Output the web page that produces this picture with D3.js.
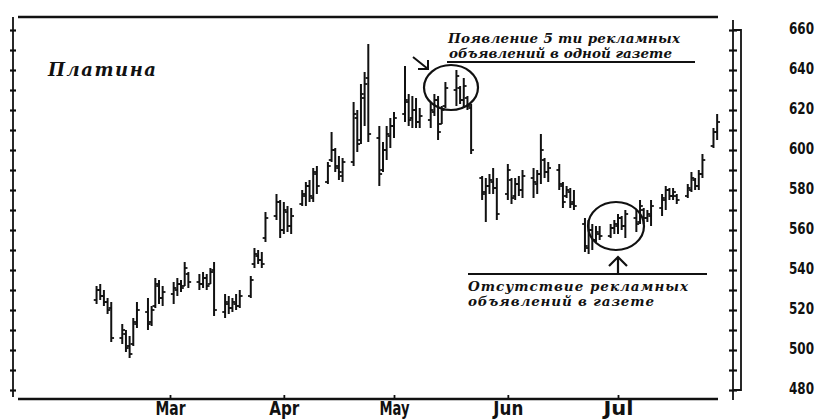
<!DOCTYPE html>
<html>
<head>
<meta charset="utf-8">
<script src="https://cdn.jsdelivr.net/npm/d3@7"></script>
<style>
  html, body { margin: 0; padding: 0; background: #fff; }
  svg { display: block; }
  .note { font-family: 'DejaVu Serif', 'Liberation Serif', serif; font-weight: bold; font-style: italic; fill: #111; }
  .axis-label { font-family: 'DejaVu Sans Condensed', 'Liberation Sans Narrow', 'DejaVu Sans', sans-serif; font-weight: bold; fill: #111; }
</style>
</head>
<body>
<div id="chart"></div>
<script>
'use strict';

// trading sessions, Feb 9 - Jul 28 (weekdays)
const firstSession = new Date(1987, 1, 9);
const lastSession = new Date(1987, 6, 28);

// one row per week
const highs = [
    532, 533, 530, 526, 524,
    513, 510, 507, 516, 524,
    526, 522, 536, 535, 532,
    534, 536, 535, 544, 539,
    538, 539, 538, 541, 544,
    528, 527, 526, 528, 530,
    537, 551, 550, 549, 569,
    578, 575, 574, 572, 571,
    580, 584, 585, 591, 592,
    594, 609, 601, 597, 596,
    624, 620, 633, 639, 653,
    612, 604, 612, 616, 619,
    642, 628, 627, 626, 621,
    624, 628, 627, 622, 634,
    640, 632, 636, 627, 623,
    587, 586, 588, 591, 586,
    593, 586, 586, 587, 590,
    591, 590, 608, 596, 594,
    593, 584, 582, 581, 580,
    566, 565, 563, 562, 562,
    563, 565, 568, 567, 570,
    570, 575, 571, 570, 575,
    578, 582, 581, 581, 578,
    583, 589, 586, 590, 598,
    611, 618
];
const lows = [
    523, 525, 522, 518, 504,
    503, 499, 496, 502, 511,
    510, 512, 521, 523, 522,
    523, 527, 529, 532, 531,
    530, 531, 530, 533, 517,
    516, 518, 519, 520, 521,
    526, 541, 543, 541, 554,
    565, 556, 558, 559, 558,
    572, 572, 574, 574, 578,
    583, 594, 589, 585, 584,
    592, 599, 603, 612, 604,
    582, 589, 595, 601, 606,
    614, 612, 611, 611, 611,
    611, 617, 605, 613, 621,
    622, 623, 621, 620, 598,
    575, 564, 578, 578, 565,
    575, 573, 575, 577, 576,
    576, 578, 583, 586, 584,
    580, 571, 576, 571, 570,
    549, 548, 550, 554, 555,
    556, 558, 558, 560, 556,
    559, 563, 563, 564, 562,
    567, 570, 575, 575, 573,
    576, 579, 580, 580, 586,
    601, 605
];
const opens = [
    525, 530, 527, 524, 521,
    506, 508, 502, 503, 513,
    519, 514, 522, 532, 526,
    528, 530, 533, 532, 538,
    534, 533, 536, 533, 540,
    519, 523, 521, 523, 522,
    527, 543, 547, 545, 556,
    567, 574, 560, 569, 562,
    573, 577, 582, 576, 588,
    584, 595, 600, 591, 587,
    594, 616, 605, 626, 636,
    606, 590, 600, 607, 612,
    618, 624, 616, 620, 614,
    615, 619, 625, 613, 622,
    630, 631, 625, 626, 621,
    586, 579, 582, 584, 581,
    578, 585, 577, 583, 580,
    586, 583, 588, 595, 589,
    590, 582, 577, 579, 574,
    563, 551, 560, 555, 558,
    557, 561, 562, 566, 562,
    566, 564, 570, 566, 567,
    571, 575, 580, 577, 577,
    577, 580, 585, 582, 588,
    602, 609
];
const closes = [
    530, 527, 524, 520, 506,
    510, 501, 498, 514, 520,
    513, 520, 533, 526, 529,
    531, 533, 531, 541, 534,
    533, 536, 532, 539, 520,
    524, 521, 524, 522, 527,
    535, 548, 545, 543, 566,
    574, 560, 570, 562, 567,
    578, 582, 577, 589, 582,
    592, 600, 592, 589, 594,
    618, 603, 628, 633, 608,
    588, 600, 608, 612, 616,
    625, 615, 620, 614, 617,
    620, 625, 609, 620, 631,
    637, 625, 632, 622, 600,
    578, 582, 585, 581, 568,
    590, 576, 583, 580, 587,
    584, 588, 600, 589, 591,
    583, 574, 580, 573, 572,
    552, 560, 555, 559, 557,
    561, 563, 566, 562, 568,
    563, 572, 566, 568, 572,
    576, 580, 577, 579, 575,
    581, 586, 582, 588, 595,
    609, 614
];

const priceTicks = [480, 490, 500, 510, 520, 530, 540, 550, 560, 570, 580, 590, 600, 610, 620, 630, 640, 650, 660];
const priceLabels = [480, 500, 520, 540, 560, 580, 600, 620, 640, 660];
const monthLabels = ['Mar', 'Apr', 'May', 'Jun', 'Jul'];

const titleText = 'Платина';
const noteTop = ['Появление 5 ти рекламных', 'объявлений в одной газете'];
const noteBottom = ['Отсутствие рекламных', 'объявлений в газете'];

const width = 818;
const height = 420;

const sessions = d3.timeDay.range(firstSession, d3.timeDay.offset(lastSession, 1))
    .filter(d => d.getDay() !== 0 && d.getDay() !== 6);

const bars = sessions.map((d, i) => ({
    date: d,
    open: opens[i],
    high: highs[i],
    low: lows[i],
    close: closes[i]
}));

const x = d3.scaleTime()
    .domain([new Date(1987, 2, 1), new Date(1987, 6, 1)])
    .range([170, 618]);

const y = d3.scaleLinear()
    .domain([480, 660])
    .range([390, 30]);

const svg = d3.select('#chart')
    .append('svg')
    .attr('width', width)
    .attr('height', height);

const ink = '#111';

// frame lines top and bottom
svg.append('line')
    .attr('x1', 18).attr('x2', 718)
    .attr('y1', 17).attr('y2', 17)
    .attr('stroke', ink).attr('stroke-width', 2.4);

svg.append('line')
    .attr('x1', 18).attr('x2', 718)
    .attr('y1', 399).attr('y2', 399)
    .attr('stroke', ink).attr('stroke-width', 2.4);

// left scale (ticks only)
svg.append('line')
    .attr('x1', 13).attr('x2', 13)
    .attr('y1', 17).attr('y2', 397)
    .attr('stroke', ink).attr('stroke-width', 1.8);

const leftAxis = svg.append('g')
    .attr('transform', 'translate(13,0)')
    .call(d3.axisRight(y).tickValues(priceTicks).tickSize(3).tickFormat(''));
leftAxis.select('.domain').remove();
leftAxis.selectAll('.tick line')
    .attr('x1', -3).attr('x2', 3)
    .attr('stroke', ink).attr('stroke-width', 2.2);

// right scale
svg.append('line')
    .attr('x1', 733).attr('x2', 733)
    .attr('y1', 20).attr('y2', 400)
    .attr('stroke', ink).attr('stroke-width', 1.8);

svg.append('path')
    .attr('d', `M733,${y(660)}H741V${y(480)}H733`)
    .attr('fill', 'none')
    .attr('stroke', ink).attr('stroke-width', 1.8);

const rightAxis = svg.append('g')
    .attr('transform', 'translate(733,0)')
    .call(d3.axisRight(y).tickValues(priceTicks).tickSize(4).tickPadding(52)
        .tickFormat(d => priceLabels.includes(d) ? d : ''));
rightAxis.select('.domain').remove();
rightAxis.selectAll('.tick line')
    .attr('x1', -4).attr('x2', 4)
    .attr('stroke', ink).attr('stroke-width', 2.2);
rightAxis.selectAll('.tick text')
    .attr('class', 'axis-label')
    .attr('font-family', null)
    .attr('font-size', 16)
    .attr('dy', '0.22em')
    .attr('textLength', d => priceLabels.includes(d) ? 25 : null)
    .attr('lengthAdjust', 'spacingAndGlyphs')
    .attr('fill', ink);

// month axis
const monthAxis = svg.append('g')
    .attr('transform', 'translate(0,399)')
    .call(d3.axisBottom(x)
        .tickValues(d3.timeMonth.range(new Date(1987, 2, 1), new Date(1987, 6, 2)))
        .tickSize(-4).tickPadding(2)
        .tickFormat((d, i) => monthLabels[i]));
monthAxis.select('.domain').remove();
monthAxis.selectAll('.tick line').attr('stroke', ink).attr('stroke-width', 1.8);
monthAxis.selectAll('.tick text')
    .attr('class', 'axis-label')
    .attr('font-family', null)
    .attr('font-size', 19)
    .attr('textLength', 30)
    .attr('lengthAdjust', 'spacingAndGlyphs')
    .attr('fill', ink);

// price bars
const barG = svg.append('g')
    .attr('stroke', ink);

barG.selectAll('line.hl')
    .data(bars)
    .join('line')
    .attr('class', 'hl')
    .attr('x1', d => x(d.date)).attr('x2', d => x(d.date))
    .attr('y1', d => y(d.high)).attr('y2', d => y(d.low))
    .attr('stroke-width', 2);

barG.selectAll('line.open')
    .data(bars)
    .join('line')
    .attr('class', 'open')
    .attr('x1', d => x(d.date) - 2.8).attr('x2', d => x(d.date))
    .attr('y1', d => y(d.open)).attr('y2', d => y(d.open))
    .attr('stroke-width', 1.8);

barG.selectAll('line.close')
    .data(bars)
    .join('line')
    .attr('class', 'close')
    .attr('x1', d => x(d.date)).attr('x2', d => x(d.date) + 2.8)
    .attr('y1', d => y(d.close)).attr('y2', d => y(d.close))
    .attr('stroke-width', 1.8);

// title
svg.append('text')
    .attr('class', 'note')
    .attr('x', 48).attr('y', 76)
    .attr('font-size', 18)
    .attr('textLength', 108)
    .attr('lengthAdjust', 'spacing')
    .text(titleText);

// top annotation
svg.append('text')
    .attr('class', 'note')
    .attr('x', 448).attr('y', 43)
    .attr('font-size', 13.5)
    .attr('textLength', 232)
    .attr('lengthAdjust', 'spacing')
    .text(noteTop[0]);

svg.append('text')
    .attr('class', 'note')
    .attr('x', 449).attr('y', 58)
    .attr('font-size', 13.5)
    .attr('textLength', 223)
    .attr('lengthAdjust', 'spacing')
    .text(noteTop[1]);

svg.append('line')
    .attr('x1', 447).attr('x2', 695)
    .attr('y1', 62).attr('y2', 62)
    .attr('stroke', ink).attr('stroke-width', 1.8);

svg.append('ellipse')
    .attr('cx', 451).attr('cy', 87.5)
    .attr('rx', 27).attr('ry', 22.5)
    .attr('fill', 'none')
    .attr('stroke', ink).attr('stroke-width', 2.2);

svg.append('path')
    .attr('d', 'M413,57L428,69M418,69H428V60')
    .attr('fill', 'none')
    .attr('stroke', ink).attr('stroke-width', 2);

// bottom annotation
svg.append('line')
    .attr('x1', 468).attr('x2', 707)
    .attr('y1', 274).attr('y2', 274)
    .attr('stroke', ink).attr('stroke-width', 1.8);

svg.append('text')
    .attr('class', 'note')
    .attr('x', 468).attr('y', 291)
    .attr('font-size', 13.5)
    .attr('textLength', 220)
    .attr('lengthAdjust', 'spacing')
    .text(noteBottom[0]);

svg.append('text')
    .attr('class', 'note')
    .attr('x', 468).attr('y', 306)
    .attr('font-size', 13.5)
    .attr('textLength', 186)
    .attr('lengthAdjust', 'spacing')
    .text(noteBottom[1]);

svg.append('ellipse')
    .attr('cx', 616).attr('cy', 226)
    .attr('rx', 28).attr('ry', 24)
    .attr('fill', 'none')
    .attr('stroke', ink).attr('stroke-width', 2.2);

svg.append('path')
    .attr('d', 'M618,274V258M609,266L618,257L627,266')
    .attr('fill', 'none')
    .attr('stroke', ink).attr('stroke-width', 2.2);
</script>
</body>
</html>
